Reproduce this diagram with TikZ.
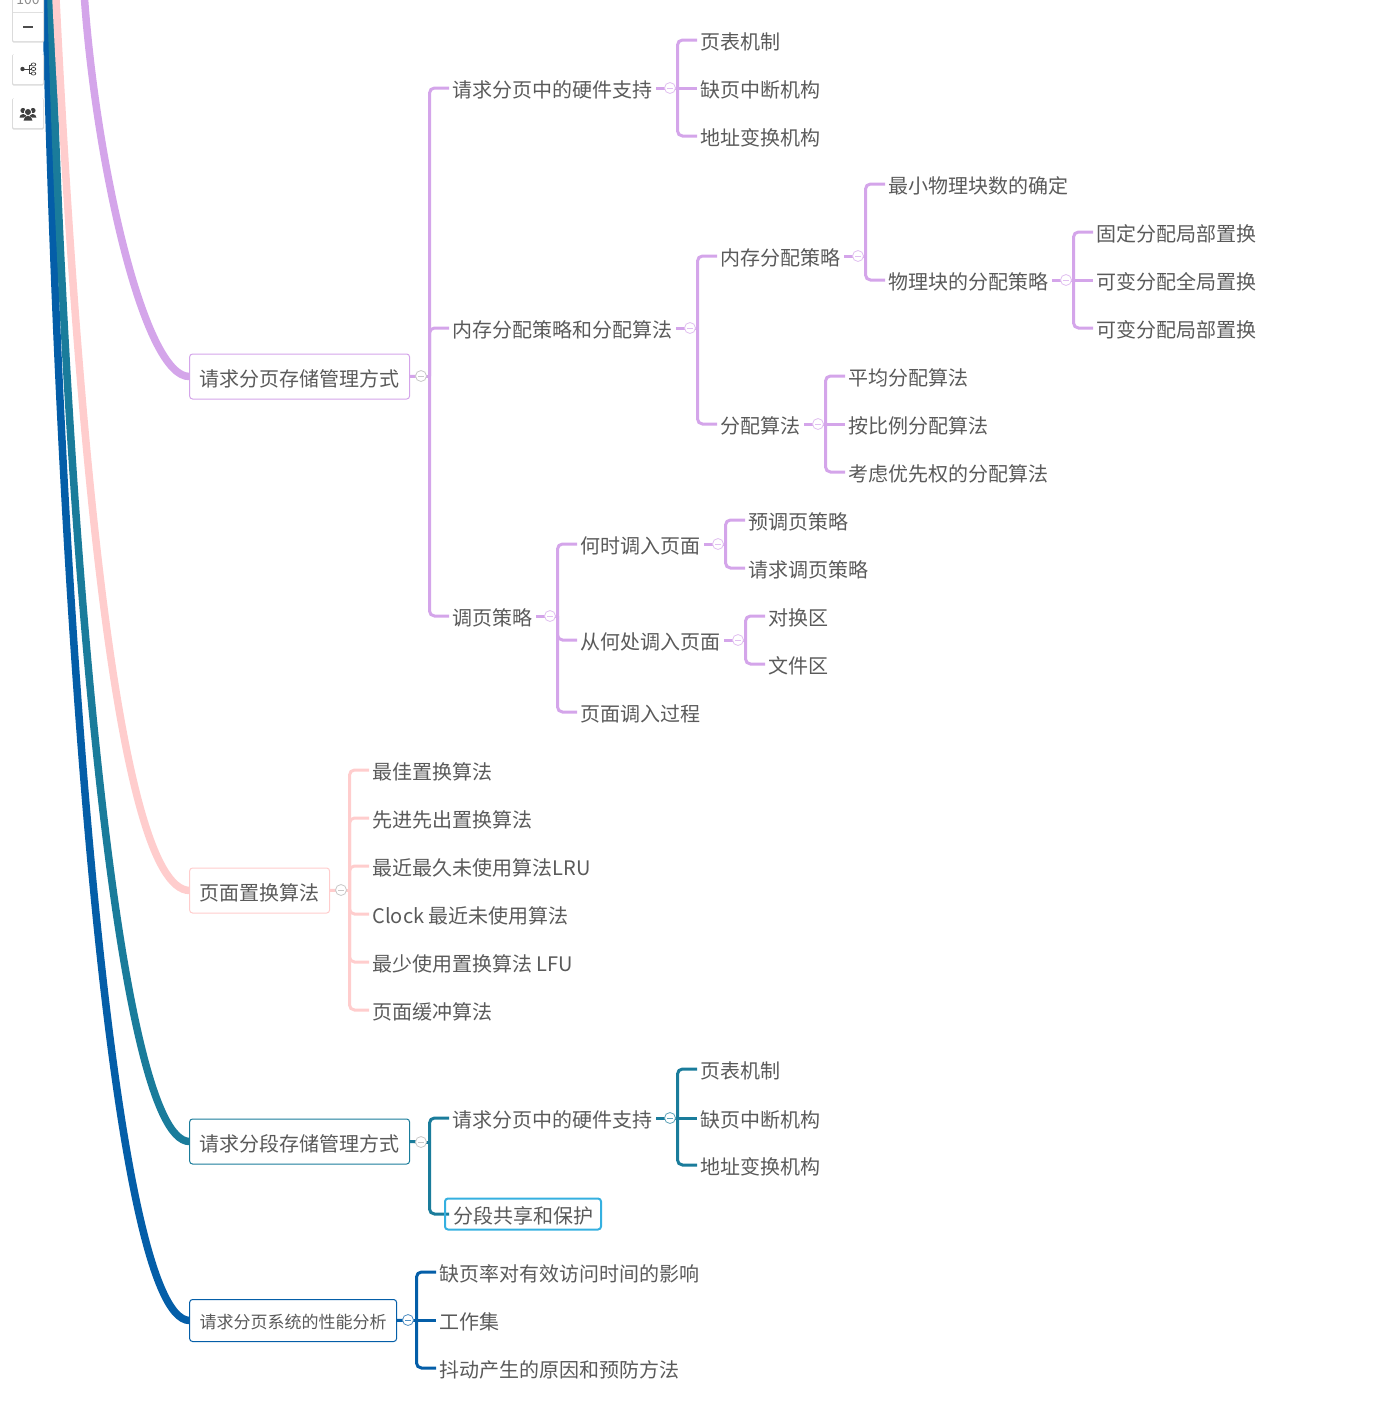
\documentclass[tikz,border=0pt]{standalone}
\usepackage{fontspec}
\setmainfont{Noto Sans CJK SC}
\usetikzlibrary{backgrounds,calc}
\definecolor{cpur}{HTML}{D4A5EA}
\definecolor{cpink}{HTML}{FFCDCD}
\definecolor{cteal}{HTML}{1A7C9B}
\definecolor{cblue}{HTML}{045EA8}
\definecolor{csel}{HTML}{35B0E0}
\definecolor{ctxt}{HTML}{5A5A5A}
\definecolor{cring}{HTML}{C8C8C8}
\tikzset{
  lbl/.style={anchor=west,inner xsep=3.5pt,inner ysep=0pt,outer sep=0pt,text=ctxt,font=\fontsize{20}{20}\selectfont,text height=19.8pt,text depth=0pt},
  rootbox/.style={lbl,draw=#1,fill=white,rounded corners=3pt,line width=1pt,inner xsep=10pt,minimum height=45pt,text height=19.2pt},
  togl/.style={circle,draw=#1,fill=white,line width=.8pt,minimum size=11pt,inner sep=0pt,outer sep=0pt,
     path picture={\draw[#1,line width=.8pt] ([xshift=-3pt]path picture bounding box.center) -- ([xshift=3pt]path picture bounding box.center);}},
  br/.style={draw=#1,line width=3pt,rounded corners=5pt},
  main/.style={draw=#1,line width=7.5pt},
  btn/.style={fill=white,draw=none,rounded corners=1pt},
  btnshade/.style={fill=black!14,draw=none,rounded corners=1.5pt},
}
% colour, toggle, x-offset, elbow children, straight children
\newcommand{\treeto}[5]{%
  \path[draw=#1,line width=3pt] (#2.center) -- ++(#3,0);%
  \foreach \k in {#4}{\path[br=#1] (#2.center) ++(#3,0) |- (\k.west);}%
  \foreach \k in {#5}{\path[draw=#1,line width=3pt] (#2.center) -- (\k.west);}}
\begin{document}
\begin{tikzpicture}[x=1pt,y=-1pt]
\useasboundingbox (0,0) rectangle (1398,1408);

% root boxes
\node[rootbox=cpur] (r1) at (189.6,376.5) {请求分页存储管理方式};
\node[rootbox=cpink] (r2) at (189.6,890.5) {页面置换算法};
\node[rootbox=cteal] (r3) at (189.6,1141.5) {请求分段存储管理方式};
\node[rootbox=cblue,minimum height=42pt,font=\fontsize{17}{17}\selectfont,text height=16.3pt] (r4) at (189.6,1320.5) {请求分页系统的性能分析};

% purple tree
\node[togl=cring] (t1) at (421,376) {};
\node[lbl] (a) at (449,88) {请求分页中的硬件支持};
\node[togl=cpur!70] (ta) at (670,88) {};
\node[lbl] (a1) at (697,40) {页表机制};
\node[lbl] (a2) at (697,88) {缺页中断机构};
\node[lbl] (a3) at (697,136) {地址变换机构};
\node[lbl] (b) at (449,328) {内存分配策略和分配算法};
\node[togl=cpur!70] (tb) at (690,328) {};
\node[lbl] (b1) at (717,256) {内存分配策略};
\node[togl=cpur!70] (tb1) at (858,256) {};
\node[lbl] (b11) at (885,184) {最小物理块数的确定};
\node[lbl] (b12) at (885,280) {物理块的分配策略};
\node[togl=cpur!70] (tb12) at (1066,280) {};
\node[lbl] (b121) at (1093,232) {固定分配局部置换};
\node[lbl] (b122) at (1093,280) {可变分配全局置换};
\node[lbl] (b123) at (1093,328) {可变分配局部置换};
\node[lbl] (b2) at (717,424) {分配算法};
\node[togl=cpur!70] (tb2) at (818,424) {};
\node[lbl] (b21) at (845,376) {平均分配算法};
\node[lbl] (b22) at (845,424) {按比例分配算法};
\node[lbl] (b23) at (845,472) {考虑优先权的分配算法};
\node[lbl] (c) at (449,616) {调页策略};
\node[togl=cpur!70] (tc) at (550,616) {};
\node[lbl] (c1) at (577,544) {何时调入页面};
\node[togl=cpur!70] (tc1) at (718,544) {};
\node[lbl] (c11) at (745,520) {预调页策略};
\node[lbl] (c12) at (745,568) {请求调页策略};
\node[lbl] (c2) at (577,640) {从何处调入页面};
\node[togl=cpur!70] (tc2) at (738,640) {};
\node[lbl] (c21) at (765,616) {对换区};
\node[lbl] (c22) at (765,664) {文件区};
\node[lbl] (c3) at (577,712) {页面调入过程};

% pink tree
\node[togl=cring] (t2) at (341,890) {};
\node[lbl] (p1) at (369,770) {最佳置换算法};
\node[lbl] (p2) at (369,818) {先进先出置换算法};
\node[lbl] (p3) at (369,866) {最近最久未使用算法LRU};
\node[lbl] (p4) at (369,914) {Clock 最近未使用算法};
\node[lbl] (p5) at (369,962) {最少使用置换算法 LFU};
\node[lbl] (p6) at (369,1010) {页面缓冲算法};

% teal tree
\node[togl=cring] (t3) at (421,1142) {};
\node[lbl] (d) at (449,1118) {请求分页中的硬件支持};
\node[togl=cteal!70] (td) at (670,1118) {};
\node[lbl] (d1) at (697,1069) {页表机制};
\node[lbl,text height=19.2pt] (d2) at (697,1118) {缺页中断机构};
\node[lbl] (d3) at (697,1165) {地址变换机构};
\node[lbl,draw=csel,line width=2pt,rounded corners=3pt,inner xsep=8pt,minimum height=31pt,text height=19.2pt] (e) at (445,1214) {分段共享和保护};
\coordinate (ein) at ($(e.west)+(4,0)$);

% blue tree
\node[togl=cblue!70] (t4) at (408,1320) {};
\node[lbl] (f1) at (436,1272) {缺页率对有效访问时间的影响};
\node[lbl] (f2) at (436,1320) {工作集};
\node[lbl] (f3) at (436,1368) {抖动产生的原因和预防方法};

% connectors
\coordinate (s1) at (46,-1);
\coordinate (s2) at (51,-1);
\coordinate (s3) at (56,-1);
\coordinate (s4) at (84.5,-1);
\begin{pgfonlayer}{background}
\draw[main=cblue] (s1) .. controls (59,590) and (110,1320) .. (r4.west);
\draw[main=cteal] (s2) .. controls (65,510) and (115,1142) .. (r3.west);
\draw[main=cpink] (s3) .. controls (76,400) and (115,890) .. (r2.west);
\draw[main=cpur] (s4) .. controls (97,170) and (145,378) .. (r1.west);
\path[br=cpur] (r1.east) -- (t1.center);
\treeto{cpur}{t1}{8.5}{a,b,c}{}
\path[br=cpur] (a.east) -- (ta.center);
\treeto{cpur}{ta}{7.5}{a1,a3}{a2}
\path[br=cpur] (b.east) -- (tb.center);
\treeto{cpur}{tb}{7.5}{b1,b2}{}
\path[br=cpur] (b1.east) -- (tb1.center);
\treeto{cpur}{tb1}{7.5}{b11,b12}{}
\path[br=cpur] (b12.east) -- (tb12.center);
\treeto{cpur}{tb12}{7.5}{b121,b123}{b122}
\path[br=cpur] (b2.east) -- (tb2.center);
\treeto{cpur}{tb2}{7.5}{b21,b23}{b22}
\path[br=cpur] (c.east) -- (tc.center);
\treeto{cpur}{tc}{7.5}{c1,c2,c3}{}
\path[br=cpur] (c1.east) -- (tc1.center);
\treeto{cpur}{tc1}{7.5}{c11,c12}{}
\path[br=cpur] (c2.east) -- (tc2.center);
\treeto{cpur}{tc2}{7.5}{c21,c22}{}
\path[br=cpink] (r2.east) -- (t2.center);
\treeto{cpink}{t2}{8.5}{p1,p2,p3,p4,p5,p6}{}
\path[br=cteal] (r3.east) -- (t3.center);
\treeto{cteal}{t3}{8.5}{d}{}
\path[br=cteal] (t3.center) ++(8.5,0) |- (ein);
\path[br=cteal] (d.east) -- (td.center);
\treeto{cteal}{td}{7.5}{d1,d3}{d2}
\path[br=cblue] (r4.east) -- (t4.center);
\treeto{cblue}{t4}{8.5}{f1,f3}{f2}
\end{pgfonlayer}

% toolbar
\foreach \ya/\yb in {-20/41,54/84,98/128}{
  \fill[btnshade] (12,\ya) rectangle (44,\yb+1.5);
  \fill[btn] (13,\ya) rectangle (43,\yb);
}
\draw[black!12,line width=.6pt] (13,12.5) -- (43,12.5);
\node[text=black!45,font=\fontsize{14}{14}\selectfont,inner sep=0pt,anchor=base] (zoomval) at (28,5) {100};
\draw[black!70,line width=1.2pt] (23,27) -- (33,27);
% mind-map icon
\fill[black!75] (22.5,69) circle (2.2pt);
\draw[black!75,line width=1pt] (22.5,69) -- (29,69) (29,65) -- (29,73);
\draw[black!75,line width=.8pt] (29,65) -- (31,65) (29,69) -- (31,69) (29,73) -- (31,73);
\foreach \yy in {64.5,69,73.5}{\draw[black!75,line width=.7pt,fill=white] (33.5,\yy) ellipse (2.3pt and 1.6pt);}
% group icon
\fill[black!75] (23,110.5) circle (2.6pt) (33,110.5) circle (2.6pt);
\fill[black!75] (19.5,117.5) arc[start angle=180,end angle=0,x radius=3.7pt,y radius=3.5pt] -- cycle;
\fill[black!75] (29,117.5) arc[start angle=180,end angle=0,x radius=3.7pt,y radius=3.5pt] -- cycle;
\fill[white] (28,112) circle (4pt);
\fill[black!75] (28,112) circle (3pt);
\fill[white] (22.8,121.5) arc[start angle=180,end angle=0,x radius=5.2pt,y radius=6pt] -- cycle;
\fill[black!75] (23.6,120.5) arc[start angle=180,end angle=0,x radius=4.4pt,y radius=4.8pt] -- cycle;
\end{tikzpicture}
\end{document}
